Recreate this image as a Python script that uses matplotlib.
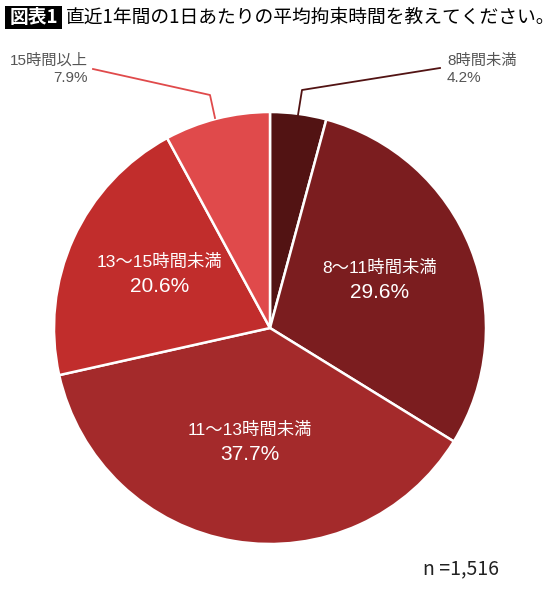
import matplotlib
matplotlib.use("Agg")
import matplotlib.pyplot as plt
from matplotlib.patches import Rectangle

plt.rcParams['font.family'] = ['Noto Sans CJK JP', 'DejaVu Sans']
LAB_FONT = ['Liberation Sans', 'Noto Sans CJK JP']

# data (clockwise from 12 o'clock)
labels = ["8時間未満", "8〜11時間未満", "11〜13時間未満", "13〜15時間未満", "15時間以上"]
shares = [4.2, 29.6, 37.7, 20.6, 7.9]
colors = ["#521313", "#7b1d1f", "#a42a2b", "#c12d2c", "#e04a4b"]
title = "直近1年間の1日あたりの平均拘束時間を教えてください。"
n_text = "n =1,516"

W, H = 560, 598


def Y(y):
    # pixel row (from top) -> data y (from bottom)
    return H - y


fig = plt.figure(figsize=(W / 100, H / 100), dpi=100)
ax = fig.add_axes([0, 0, 1, 1])

ax.pie(shares, colors=colors, startangle=90, counterclock=False,
       center=(270, Y(328)), radius=216,
       wedgeprops=dict(edgecolor="white", linewidth=1.8))
ax.set_xlim(0, W)
ax.set_ylim(0, H)
ax.set_aspect("equal")
ax.axis("off")

# title
ax.add_patch(Rectangle((5, Y(29)), 57, 23, facecolor="black", edgecolor="none"))
ax.text(33.5, Y(17.5), "図表1", color="white", fontsize=13.5, fontweight="bold",
        ha="center", va="center")
ax.text(66, Y(17.5), title, color="black", fontsize=13.5, ha="left", va="center")

# inner labels
inner = {1: (380, 268, 292), 2: (250, 430, 454), 3: (160, 262, 287)}
for i, (x, y1, y2) in inner.items():
    ax.text(x, Y(y1), labels[i], color="white", fontsize=12.5, ha="center",
            va="center", family=LAB_FONT)
    ax.text(x, Y(y2), f"{shares[i]}%", color="white", fontsize=15, ha="center",
            va="center", family=LAB_FONT)

# outer labels with leader lines
ax.plot([440, 302, 298], [Y(68), Y(90), Y(115)], color=colors[0], lw=1.3)
ax.text(447, Y(61), labels[0], color="#555555", fontsize=11, ha="left",
        va="center", family=LAB_FONT)
ax.text(447, Y(78), f"{shares[0]}%", color="#555555", fontsize=11, ha="left",
        va="center", family=LAB_FONT)

ax.plot([93, 210, 215], [Y(69), Y(95), Y(118)], color=colors[4], lw=1.3)
ax.text(88, Y(61), labels[4], color="#555555", fontsize=11, ha="right",
        va="center", family=LAB_FONT)
ax.text(88, Y(78), f"{shares[4]}%", color="#555555", fontsize=11, ha="right",
        va="center", family=LAB_FONT)

ax.text(423, Y(569), n_text, color="#222222", fontsize=14, ha="left", va="center")

fig.savefig("out.png", dpi=100)
